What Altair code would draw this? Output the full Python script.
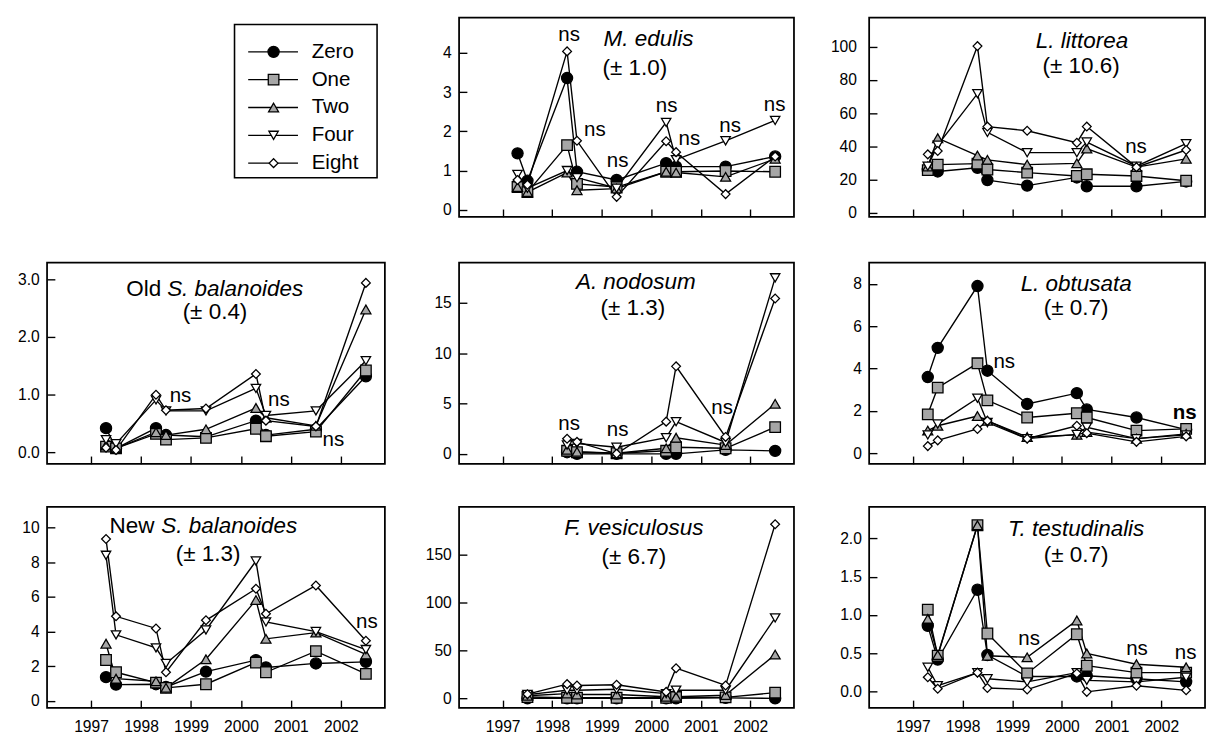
import altair as alt
import pandas as pd

FONT = "Liberation Sans"
GRAY = "#a6a6a6"

dates = [1997.3, 1997.5, 1998.3, 1998.5, 1999.3, 2000.3, 2000.5, 2001.5, 2002.5]
years = [1997, 1998, 1999, 2000, 2001, 2002]
series_names = ["Zero", "One", "Two", "Four", "Eight"]

# M. edulis
medulis_zero = [1.44, 0.74, 3.36, 0.97, 0.76, 1.19, 1.10, 1.10, 1.36]
medulis_one = [0.58, 0.45, 1.65, 0.66, 0.58, 0.97, 0.97, 0.99, 0.97]
medulis_two = [0.58, 0.45, 0.95, 0.50, 0.54, 0.97, 0.95, 0.84, 1.30]
medulis_four = [0.90, 0.55, 1.00, 0.82, 0.55, 2.23, 1.28, 1.76, 2.28]
medulis_eight = [0.76, 0.64, 4.04, 1.76, 0.33, 1.75, 1.47, 0.40, 1.36]
medulis_ns_x = [1998.34, 1998.86, 1999.32, 2000.31, 2000.77, 2001.59, 2002.49]
medulis_ns_y = [4.45, 2.02, 1.24, 2.64, 1.81, 2.14, 2.68]

# L. littorea
littorea_zero = [26.0, 25.0, 27.2, 19.8, 16.5, 21.4, 16.1, 16.1, 19.0]
littorea_one = [25.8, 29.1, 29.7, 26.2, 24.3, 22.3, 23.3, 22.3, 19.4]
littorea_two = [28.0, 45.0, 34.6, 32.0, 29.1, 29.9, 38.8, 27.6, 32.6]
littorea_four = [28.2, 40.8, 71.8, 48.5, 36.3, 36.3, 42.7, 28.2, 41.7]
littorea_eight = [35.3, 37.3, 100.4, 52.0, 49.5, 42.3, 52.0, 27.6, 37.9]
littorea_ns_x = [2001.49]
littorea_ns_y = [39.8]

# Old S. balanoides
oldsb_zero = [0.42, 0.07, 0.42, 0.30, 0.27, 0.55, 0.30, 0.40, 1.32]
oldsb_one = [0.10, 0.07, 0.32, 0.22, 0.25, 0.41, 0.28, 0.36, 1.42]
oldsb_two = [0.12, 0.07, 0.35, 0.30, 0.40, 0.77, 0.60, 0.46, 2.48]
oldsb_four = [0.22, 0.15, 0.91, 0.72, 0.72, 1.11, 0.64, 0.72, 1.59]
oldsb_eight = [0.08, 0.04, 1.00, 0.73, 0.76, 1.36, 0.55, 0.45, 2.94]
oldsb_ns_x = [1998.79, 2000.76, 2001.85]
oldsb_ns_y = [0.97, 0.90, 0.21]

# A. nodosum
anod_zero = [None, None, 0.16, 0.0, 0.0, 0.0, 0.0, 0.39, 0.29]
anod_one = [None, None, 0.30, 0.16, 0.06, 0.30, 0.65, 0.55, 2.65]
anod_two = [None, None, 0.39, 0.20, 0.06, 0.55, 1.60, 0.87, 4.97]
anod_four = [None, None, 0.87, 1.03, 0.65, 1.60, 3.20, 1.13, 17.5]
anod_eight = [None, None, 1.50, 1.19, 0.0, 3.20, 8.70, 1.68, 15.45]
anod_ns_x = [1998.34, 1999.32, 2001.43]
anod_ns_y = [2.97, 2.32, 4.58]

# L. obtusata
lobt_zero = [3.60, 4.98, 7.90, 3.90, 2.33, 2.84, 2.07, 1.69, 1.12]
lobt_one = [1.84, 3.10, 4.25, 2.50, 1.69, 1.89, 1.69, 1.07, 1.15]
lobt_two = [1.07, 1.30, 1.76, 1.53, 0.77, 0.87, 1.00, 0.69, 0.92]
lobt_four = [0.87, 1.38, 2.60, 1.45, 0.69, 0.89, 1.23, 0.69, 0.87]
lobt_eight = [0.34, 0.61, 1.15, 1.53, 0.69, 1.30, 0.95, 0.54, 0.80]
lobt_ns_x = [1998.84]
lobt_ns_y = [4.29]
lobt_nsbold_x = [2002.47]
lobt_nsbold_y = [1.89]

# New S. balanoides
newsb_zero = [1.37, 0.94, 0.96, 0.80, 1.69, 2.35, 1.93, 2.16, 2.25]
newsb_one = [2.36, 1.65, 1.05, 0.75, 0.96, 2.21, 1.65, 2.87, 1.56]
newsb_two = [3.30, 1.28, 1.13, 0.75, 2.40, 5.82, 3.58, 3.94, 2.68]
newsb_four = [8.40, 3.81, 3.06, 2.16, 4.09, 8.07, 4.56, 4.00, 2.96]
newsb_eight = [9.34, 4.88, 4.18, 1.65, 4.65, 6.47, 5.03, 6.66, 3.47]
newsb_ns_x = [2002.52]
newsb_ns_y = [4.56]

# F. vesiculosus
fves_zero = [None, 0.0, 0.0, 0.0, 0.0, 0.0, 0.0, 0.5, 0.0]
fves_one = [None, 1.4, 0.7, 0.7, 0.7, 0.7, 1.4, 1.0, 6.0]
fves_two = [None, 2.7, 5.0, 4.0, 4.0, 1.7, 1.7, 3.4, 45.7]
fves_four = [None, 4.0, 8.5, 8.5, 9.5, 5.0, 8.5, 8.5, 84.0]
fves_eight = [None, 4.4, 14.9, 13.5, 14.2, 6.8, 31.5, 13.5, 181.8]

# T. testudinalis
ttest_zero = [0.86, 0.42, 1.33, 0.48, 0.20, 0.20, 0.21, 0.17, 0.13]
ttest_one = [1.07, 0.47, 2.17, 0.76, 0.24, 0.75, 0.34, 0.25, 0.25]
ttest_two = [0.95, 0.48, 2.17, 0.47, 0.45, 0.93, 0.50, 0.36, 0.32]
ttest_four = [0.32, 0.08, 0.25, 0.17, 0.13, 0.25, 0.15, 0.13, 0.19]
ttest_eight = [0.19, 0.04, 0.25, 0.05, 0.03, 0.24, 0.0, 0.08, 0.02]
ttest_ns_x = [1999.34, 2001.51, 2002.49]
ttest_ns_y = [0.69, 0.56, 0.51]

shape_scale = alt.Scale(domain=series_names,
                        range=["circle", "square", "triangle-up", "triangle-down", "diamond"])
fill_scale = alt.Scale(domain=series_names, range=["black", GRAY, GRAY, "white", "white"])
size_scale = alt.Scale(domain=series_names, range=[130, 81, 135, 135, 185])

XDOM = [1996.12, 2002.88]
YEXT = 47
TITLE_FS = 23
NS_FS = 21
TICK_FS = 16


def panel(arrays, ydom, yticks, yfmt, names, name_y, sub, sub_x, sub_y,
          ns_x, ns_y, bottom, width, height, labelpad=8, nsb_x=None, nsb_y=None):
    rows = []
    for i, (s, vals) in enumerate(zip(series_names, arrays)):
        for d, v in zip(dates, vals):
            if v is not None:
                rows.append({"date": d, "value": v, "series": s, "ord": i})
    df = pd.DataFrame(rows)
    xscale = alt.Scale(domain=XDOM, nice=False, zero=False)
    yscale = alt.Scale(domain=ydom, nice=False, zero=False)
    xaxis = alt.Axis(values=years, labels=bottom, format="d", offset=-8, tickSize=8,
                     domain=False, grid=False, title=None, labelFontSize=TICK_FS,
                     labelFont=FONT, labelColor="black", tickColor="black", tickWidth=1.4,
                     labelPadding=11, labelOverlap=False, labelFlush=False)
    yaxis = alt.Axis(values=yticks, format=yfmt, offset=-8, tickSize=8, domain=False,
                     grid=False, title=None, labelFontSize=TICK_FS, labelFont=FONT,
                     labelColor="black", tickColor="black", tickWidth=1.4,
                     labelPadding=labelpad, labelOverlap=False, labelFlush=False,
                     minExtent=YEXT, maxExtent=YEXT)
    base = alt.Chart(df)
    lines = base.mark_line(color="black", strokeWidth=1.4).encode(
        x=alt.X("date:Q", scale=xscale, axis=xaxis),
        y=alt.Y("value:Q", scale=yscale, axis=yaxis),
        detail="series:N",
        order="date:Q",
    )
    points = base.mark_point(filled=True, opacity=1, stroke="black", strokeWidth=1.3).encode(
        x=alt.X("date:Q"),
        y=alt.Y("value:Q"),
        shape=alt.Shape("series:N", scale=shape_scale, legend=None),
        fill=alt.Fill("series:N", scale=fill_scale, legend=None),
        size=alt.Size("series:N", scale=size_scale, legend=None),
        order=alt.Order("ord:Q"),
    )
    layers = [lines, points]
    one = alt.Chart(pd.DataFrame({"k": [0]}))
    for txt, style, align, px in names:
        layers.append(one.mark_text(font=FONT, fontSize=TITLE_FS, fontStyle=style,
                                    align=align, baseline="middle", color="black").encode(
            x=alt.value(px), y=alt.value(name_y), text=alt.value(txt)))
    layers.append(one.mark_text(font=FONT, fontSize=TITLE_FS, align="center",
                                baseline="middle", color="black").encode(
        x=alt.value(sub_x), y=alt.value(sub_y), text=alt.value(sub)))
    if ns_x:
        nsdf = pd.DataFrame({"date": ns_x, "value": ns_y, "label": ["ns"] * len(ns_x)})
        layers.append(alt.Chart(nsdf).mark_text(font=FONT, fontSize=NS_FS, align="center",
                                                baseline="middle", color="black").encode(
            x="date:Q", y="value:Q", text="label:N"))
    if nsb_x:
        nsdf = pd.DataFrame({"date": nsb_x, "value": nsb_y, "label": ["ns"] * len(nsb_x)})
        layers.append(alt.Chart(nsdf).mark_text(font=FONT, fontSize=NS_FS, fontWeight="bold",
                                                align="center", baseline="middle",
                                                color="black").encode(
            x="date:Q", y="value:Q", text="label:N"))
    return alt.layer(*layers).properties(width=width, height=height)


# legend panel (top-left cell)
legend_df = pd.DataFrame({"series": series_names, "ord": list(range(5))})
ly = alt.Y("series:N", scale=alt.Scale(type="point", domain=series_names, range=[35, 149],
                                       padding=0), axis=None)
lbase = alt.Chart(legend_df)
lbox = alt.Chart(pd.DataFrame({"k": [0]})).mark_rect(fill="white", stroke="black",
                                                     strokeWidth=1.6).encode(
    x=alt.value(192), x2=alt.value(338), y=alt.value(7), y2=alt.value(164))
lrule = lbase.mark_rule(color="black", strokeWidth=1.4).encode(
    y=ly, x=alt.value(206), x2=alt.value(257))
lpts = lbase.mark_point(filled=True, opacity=1, stroke="black", strokeWidth=1.3).encode(
    y=ly, x=alt.value(232),
    shape=alt.Shape("series:N", scale=shape_scale, legend=None),
    fill=alt.Fill("series:N", scale=fill_scale, legend=None),
    size=alt.Size("series:N", scale=size_scale, legend=None))
ltxt = lbase.mark_text(font=FONT, fontSize=21, align="left", baseline="middle",
                       color="black").encode(y=ly, x=alt.value(271), text="series:N")
legend_chart = alt.layer(lbox, lrule, lpts, ltxt).properties(
    width=346, height=204, view=alt.ViewBackground(strokeOpacity=0))

p_medulis = panel((medulis_zero, medulis_one, medulis_two, medulis_four, medulis_eight),
                  [-0.18, 4.9], [0, 1, 2, 3, 4], "d",
                  [("M. edulis", "italic", "center", 194)], 22, "(± 1.0)", 180, 52,
                  medulis_ns_x, medulis_ns_y, False, 343, 204)
p_littorea = panel((littorea_zero, littorea_one, littorea_two, littorea_four, littorea_eight),
                   [-2.3, 117.5], [0, 20, 40, 60, 80, 100], "d",
                   [("L. littorea", "italic", "center", 218)], 24, "(± 10.6)", 217, 50,
                   littorea_ns_x, littorea_ns_y, False, 344, 204, labelpad=13)
p_oldsb = panel((oldsb_zero, oldsb_one, oldsb_two, oldsb_four, oldsb_eight),
                [-0.2, 3.29], [0, 0.5, 1.0, 1.5, 2.0, 2.5, 3.0], ".1f",
                [("Old", "normal", "right", 117), ("S. balanoides", "italic", "left", 123)],
                27, "(± 0.4)", 172, 51, oldsb_ns_x, oldsb_ns_y, False, 346, 206)
p_anod = panel((anod_zero, anod_one, anod_two, anod_four, anod_eight),
               [-1.0, 19.0], [0, 5, 10, 15], "d",
               [("A. nodosum", "italic", "center", 181)], 20, "(± 1.3)", 178, 47,
               anod_ns_x, anod_ns_y, False, 343, 206)
p_lobt = panel((lobt_zero, lobt_one, lobt_two, lobt_four, lobt_eight),
               [-0.5, 9.0], [0, 2, 4, 6, 8], "d",
               [("L. obtusata", "italic", "center", 212)], 22, "(± 0.7)", 212, 47,
               lobt_ns_x, lobt_ns_y, False, 344, 206, nsb_x=lobt_nsbold_x, nsb_y=lobt_nsbold_y)
p_newsb = panel((newsb_zero, newsb_one, newsb_two, newsb_four, newsb_eight),
                [-0.41, 11.2], [0, 2, 4, 6, 8, 10], "d",
                [("New", "normal", "right", 110), ("S. balanoides", "italic", "left", 117)],
                20, "(± 1.3)", 165, 48, newsb_ns_x, newsb_ns_y, True, 346, 206)
p_fves = panel((fves_zero, fves_one, fves_two, fves_four, fves_eight),
               [-10, 200], [0, 50, 100, 150], "d",
               [("F. vesiculosus", "italic", "center", 179)], 22, "(± 6.7)", 179, 52,
               [], [], True, 343, 206)
p_ttest = panel((ttest_zero, ttest_one, ttest_two, ttest_four, ttest_eight),
                [-0.21, 2.41], [0, 0.5, 1.0, 1.5, 2.0], ".1f",
                [("T. testudinalis", "italic", "center", 212)], 23, "(± 0.7)", 212, 50,
                ttest_ns_x, ttest_ns_y, True, 344, 206)

chart = alt.concat(
    legend_chart, p_medulis, p_littorea,
    p_oldsb, p_anod, p_lobt,
    p_newsb, p_fves, p_ttest,
    columns=3, spacing={"row": 41, "column": 35}, align="each",
).resolve_scale(x="independent", y="independent").properties(padding=0).configure(
    font=FONT).configure_view(stroke="black", strokeWidth=1.8)

chart.save("out.html", embed_options={"renderer": "svg", "actions": False})
